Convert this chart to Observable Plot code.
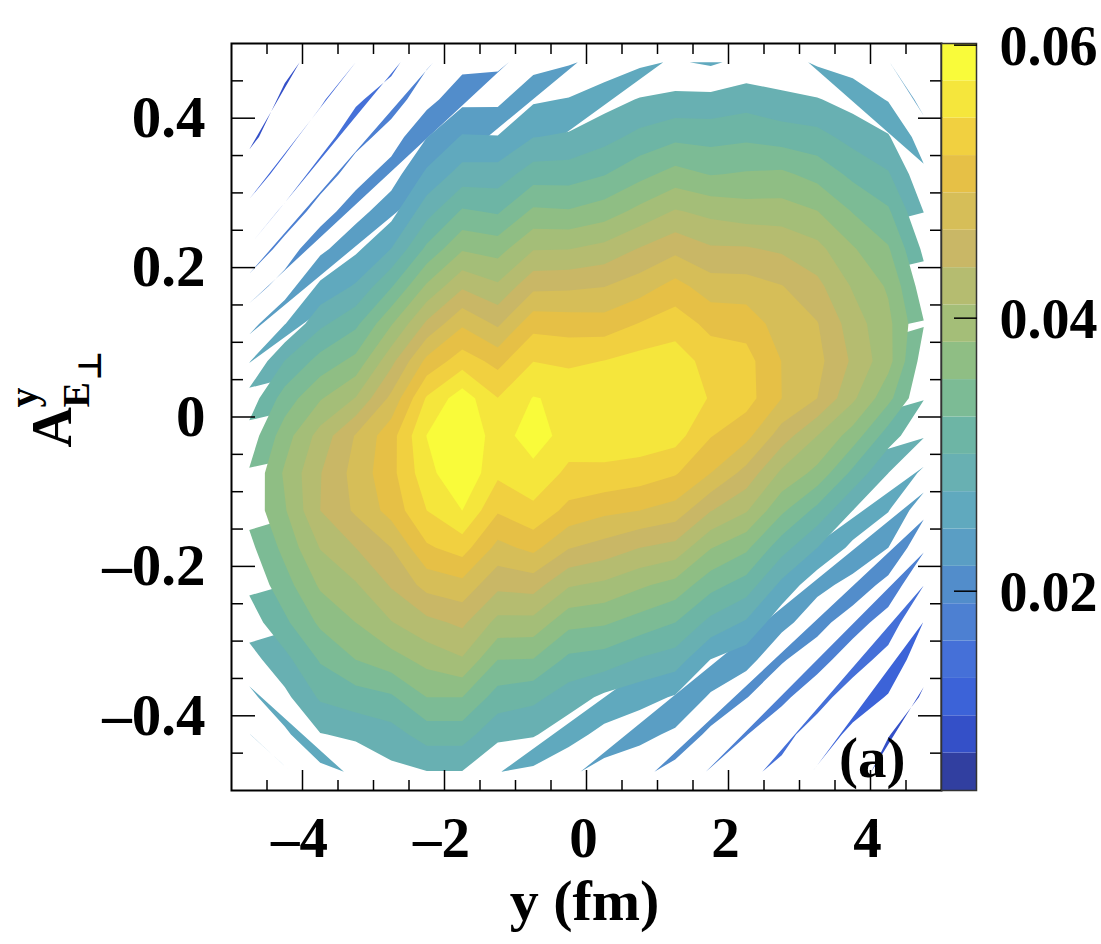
<!DOCTYPE html>
<html>
<head>
<meta charset="utf-8">
<script src="https://cdn.jsdelivr.net/npm/d3@7"></script>
<script src="https://cdn.jsdelivr.net/npm/@observablehq/plot@0.6"></script>
<style>
  body { margin: 0; background: white; }
  #chart { position: relative; width: 1101px; height: 944px; }
  #chart svg { position: absolute; left: 0; top: 0; }
</style>
</head>
<body>
<div id="chart"></div>
<script>
// bin centres of the 20x20 histogram
const yCenters = [-4.75, -4.25, -3.75, -3.25, -2.75, -2.25, -1.75, -1.25, -0.75, -0.25, 0.25, 0.75, 1.25, 1.75, 2.25, 2.75, 3.25, 3.75, 4.25, 4.75];
const aCenters = [0.475, 0.425, 0.375, 0.325, 0.275, 0.225, 0.175, 0.125, 0.075, 0.025, -0.025, -0.075, -0.125, -0.175, -0.225, -0.275, -0.325, -0.375, -0.425, -0.475];

// z values in units of 1e-3, one row per A bin, top row first
const zRows = [
  [5.54, 7.45, 9.09, 10.87, 12.79, 15.93, 18.12, 18.40, 20.58, 21.54, 22.64, 24.00, 24.83, 24.14, 25.37, 25.65, 24.17, 23.32, 21.95, 18.81],
  [6.22, 8.68, 10.46, 13.20, 14.98, 18.04, 21.02, 21.10, 24.17, 24.72, 26.19, 27.48, 28.03, 28.08, 28.79, 27.84, 27.48, 26.19, 24.36, 20.91],
  [7.45, 9.97, 12.38, 15.25, 17.58, 21.73, 24.83, 24.69, 27.21, 27.70, 29.09, 30.82, 32.08, 31.80, 32.24, 31.53, 30.93, 29.07, 27.56, 23.02],
  [9.50, 11.83, 14.70, 17.85, 20.45, 25.15, 28.44, 28.52, 31.45, 31.47, 32.62, 34.65, 36.51, 35.36, 35.77, 36.04, 34.57, 32.08, 30.30, 25.15],
  [11.56, 14.16, 17.71, 20.72, 23.54, 28.93, 33.14, 32.43, 36.04, 35.77, 36.86, 39.05, 41.24, 40.20, 39.49, 39.46, 38.31, 35.36, 33.17, 27.23],
  [13.80, 17.58, 21.10, 24.00, 27.34, 33.39, 37.93, 37.14, 40.78, 40.91, 41.87, 43.90, 45.67, 44.06, 43.98, 43.24, 41.79, 38.51, 35.77, 29.42],
  [17.63, 20.31, 25.18, 27.62, 32.49, 38.67, 43.27, 41.43, 45.70, 45.89, 46.36, 47.86, 50.13, 47.75, 47.62, 46.55, 44.44, 40.69, 37.88, 31.23],
  [20.80, 24.42, 29.39, 32.13, 37.96, 44.20, 48.74, 45.95, 50.93, 50.63, 50.38, 52.05, 53.42, 51.09, 50.82, 47.81, 46.58, 42.34, 38.92, 32.90],
  [24.33, 30.08, 33.77, 36.32, 42.88, 49.91, 53.33, 51.01, 54.59, 54.10, 54.70, 55.66, 56.02, 53.55, 52.87, 49.12, 47.26, 43.24, 39.19, 31.39],
  [28.44, 33.99, 37.96, 41.10, 47.12, 54.98, 58.89, 54.70, 57.52, 56.84, 56.29, 57.11, 57.11, 54.37, 53.01, 49.18, 46.44, 41.52, 36.32, 30.16],
  [31.12, 37.00, 42.06, 46.66, 50.87, 57.44, 60.12, 55.88, 59.03, 55.96, 56.02, 56.29, 55.74, 52.05, 50.00, 45.07, 40.97, 37.00, 31.39, 27.51],
  [33.03, 38.64, 43.57, 47.45, 51.09, 56.43, 59.85, 55.20, 56.37, 54.10, 54.10, 53.42, 52.19, 49.18, 45.48, 40.42, 37.41, 32.08, 27.30, 23.95],
  [33.58, 37.96, 43.70, 46.90, 50.19, 54.65, 57.40, 52.24, 54.05, 51.09, 49.86, 49.18, 48.08, 43.84, 41.24, 36.04, 31.94, 27.30, 24.69, 19.85],
  [32.02, 36.32, 41.10, 43.71, 46.44, 51.50, 53.09, 48.36, 49.91, 46.58, 45.35, 43.71, 42.75, 38.37, 36.04, 31.12, 27.30, 23.84, 21.83, 16.73],
  [30.57, 34.40, 38.64, 40.69, 43.98, 47.40, 48.30, 44.39, 44.85, 41.24, 40.37, 38.67, 37.27, 33.72, 31.53, 26.55, 22.64, 20.94, 18.10, 13.64],
  [28.60, 32.21, 36.04, 38.24, 40.83, 42.94, 44.25, 40.15, 40.09, 36.32, 35.85, 34.35, 32.77, 29.20, 26.93, 22.72, 20.09, 17.52, 15.09, 10.79],
  [26.19, 29.20, 33.03, 35.51, 37.14, 39.11, 40.69, 35.51, 35.36, 32.08, 31.50, 29.75, 28.66, 24.47, 22.94, 19.35, 17.44, 14.81, 12.65, 9.23],
  [23.87, 26.58, 30.43, 31.53, 32.35, 35.51, 35.51, 31.56, 30.74, 28.66, 26.74, 25.56, 24.28, 21.41, 19.19, 16.95, 14.59, 12.29, 10.68, 7.73],
  [21.76, 24.00, 27.15, 27.84, 28.87, 31.23, 31.23, 28.03, 27.56, 25.65, 23.68, 22.64, 21.27, 18.40, 16.43, 14.43, 12.40, 10.19, 8.27, 6.22],
  [19.63, 21.41, 23.73, 24.96, 26.60, 27.21, 27.21, 24.61, 24.00, 22.36, 20.72, 19.85, 17.99, 16.07, 14.16, 12.95, 10.54, 9.64, 6.77, 5.41]
];

// contour levels (1e-3) and the colour of the band above each one
const levels = [5.4, 8.14, 10.87, 13.61, 16.34, 19.08, 21.82, 24.55, 27.29, 30.02, 32.76, 35.5, 38.23, 40.97, 43.7, 46.44, 49.18, 51.91, 54.65, 57.38, 60.12];
const bandColors = ["#313fa0", "#3450c8", "#3c63d8", "#4570d8", "#4d80d2", "#528dcb", "#5a9ec4", "#60a9be", "#68b0b2", "#6db5a5",
  "#7cbb95", "#8fbe84", "#a4be78", "#b5bc70", "#c9b766", "#d6be58", "#e6c046", "#f1d040", "#f5e63c", "#f9fb3a"];

const xMajor = [-4, -2, 0, 2, 4];
const xMinor = [-4.5, -3.5, -3, -2.5, -1.5, -1, -0.5, 0.5, 1, 1.5, 2.5, 3, 3.5, 4.5];
const yMajor = [-0.4, -0.2, 0, 0.2, 0.4];
const yMinor = [-0.45, -0.35, -0.3, -0.25, -0.15, -0.1, -0.05, 0.05, 0.1, 0.15, 0.25, 0.3, 0.35, 0.45];
const barTicks = [20, 40, 60];
const barLabels = ["0.02", "0.04", "0.06"];

const serif = "Liberation Serif";
const dashed = d => String(d).replace("-", "\u2013");

// ROOT's CONT4 closes every open contour line with a straight chord,
// so cut each d3 ring where it runs along the grid border and keep the pieces
const nx = yCenters.length, ny = aCenters.length;
const onBorder = ([gx, gy]) => gx === 0 || gx === nx || gy === 0 || gy === ny;
const dx = yCenters[1] - yCenters[0], dy = aCenters[1] - aCenters[0];
const chains = [];
levels.slice(0, -1).forEach(level => {
  const contour = d3.contours().size([nx, ny]).thresholds([level])(zRows.flat())[0];
  contour.coordinates.forEach(polygon => {
    const ring = polygon[0].slice(0, -1);
    const start = ring.findIndex(onBorder);
    const ordered = start < 0 ? ring : [...ring.slice(start), ...ring.slice(0, start)];
    let piece = [];
    const flush = () => {
      if (piece.length > 1) chains.push({level, points: piece});
      piece = [];
    };
    ordered.forEach(p => {
      if (onBorder(p)) flush();
      else piece.push(p);
    });
    flush();
  });
});
const chainPoints = chains.flatMap((c, id) => c.points.map(([gx, gy]) => ({
  id,
  level: c.level,
  x: yCenters[0] + (gx - 0.5) * dx,
  y: aCenters[0] + (gy - 0.5) * dy
})));

const colorScale = {type: "threshold", domain: levels.slice(1, -1), range: bandColors};

const main = Plot.plot({
  width: 1101,
  height: 944,
  marginLeft: 231,
  marginRight: 160,
  marginTop: 43,
  marginBottom: 154,
  style: {background: "transparent", fontFamily: serif, fontWeight: "bold", color: "black"},
  x: {domain: [-5, 5], axis: null},
  y: {domain: [-0.5, 0.5], axis: null},
  color: colorScale,
  marks: [
    Plot.line(chainPoints, {x: "x", y: "y", z: "id", fill: "level", stroke: "none"}),
    Plot.axisX(xMinor, {anchor: "bottom", tickSize: -10, fill: "none", label: null, strokeWidth: 1.5}),
    Plot.axisX(xMinor, {anchor: "top", tickSize: -10, fill: "none", label: null, strokeWidth: 1.5}),
    Plot.axisX(xMajor, {anchor: "top", tickSize: -20, fill: "none", label: null, strokeWidth: 1.5}),
    Plot.axisX(xMajor, {anchor: "bottom", tickSize: -20, fill: "none", label: null, strokeWidth: 1.5}),
    Plot.axisX(xMajor, {anchor: "bottom", tickSize: 0, tickPadding: 26, fontSize: 57, dx: -3, label: null, tickFormat: dashed}),
    Plot.axisY(yMinor, {anchor: "left", tickSize: -12, fill: "none", label: null, strokeWidth: 1.5}),
    Plot.axisY(yMinor, {anchor: "right", tickSize: -12, fill: "none", label: null, strokeWidth: 1.5}),
    Plot.axisY(yMajor, {anchor: "right", tickSize: -24, fill: "none", label: null, strokeWidth: 1.5}),
    Plot.axisY(yMajor, {anchor: "left", tickSize: -24, tickPadding: 50, fontSize: 59, label: null, strokeWidth: 1.5, tickFormat: dashed}),
    Plot.frame({stroke: "black", strokeWidth: 2}),
    Plot.text(["(a)"], {frameAnchor: "bottom-right", dx: -36, dy: -14, lineAnchor: "bottom", fontSize: 57, fontWeight: "bold"}),
    Plot.text(["y (fm)"], {frameAnchor: "bottom", dx: -2, dy: 129, lineAnchor: "bottom", fontSize: 58, fontWeight: "bold"}),
    Plot.text(["A"], {frameAnchor: "left", dx: -161, dy: 30.5, rotate: -90, textAnchor: "start", lineAnchor: "bottom", fontSize: 56, fontWeight: "bold"}),
    Plot.text(["y"], {frameAnchor: "left", dx: -195, dy: -9.5, rotate: -90, textAnchor: "start", lineAnchor: "bottom", fontSize: 40, fontWeight: "bold"}),
    Plot.text(["E"], {frameAnchor: "left", dx: -143, dy: -9.5, rotate: -90, textAnchor: "start", lineAnchor: "bottom", fontSize: 38, fontWeight: "bold"}),
    Plot.text(["\u22a5"], {frameAnchor: "left", dx: -131, dy: -36.5, rotate: -90, textAnchor: "start", lineAnchor: "bottom", fontSize: 32, fontWeight: "bold", fontFamily: "DejaVu Sans"})
  ]
});

// colour bar, on its own z scale
const bands = levels.slice(0, -1).map((level, i) => ({level, top: levels[i + 1]}));
const bar = Plot.plot({
  width: 1101,
  height: 944,
  marginLeft: 941,
  marginRight: 125,
  marginTop: 43,
  marginBottom: 154,
  style: {background: "transparent", fontFamily: serif, fontWeight: "bold", color: "black"},
  x: {domain: [0, 1], axis: null},
  y: {domain: [levels[0], levels[20]], axis: null},
  color: colorScale,
  marks: [
    Plot.rect(bands, {x1: 0, x2: 1, y1: "level", y2: "top", fill: "level"}),
    Plot.frame({stroke: "#333", strokeWidth: 1.5}),
    Plot.axisY(barTicks, {anchor: "right", tickSize: -23, fill: "none", label: null, strokeWidth: 1.5}),
    Plot.axisY(barTicks, {
      anchor: "right", tickSize: 0, tickPadding: 23, fontSize: 56, dy: 2, label: null,
      tickFormat: d => barLabels[barTicks.indexOf(d)]
    })
  ]
});

document.getElementById("chart").append(main, bar);
</script>
</body>
</html>
